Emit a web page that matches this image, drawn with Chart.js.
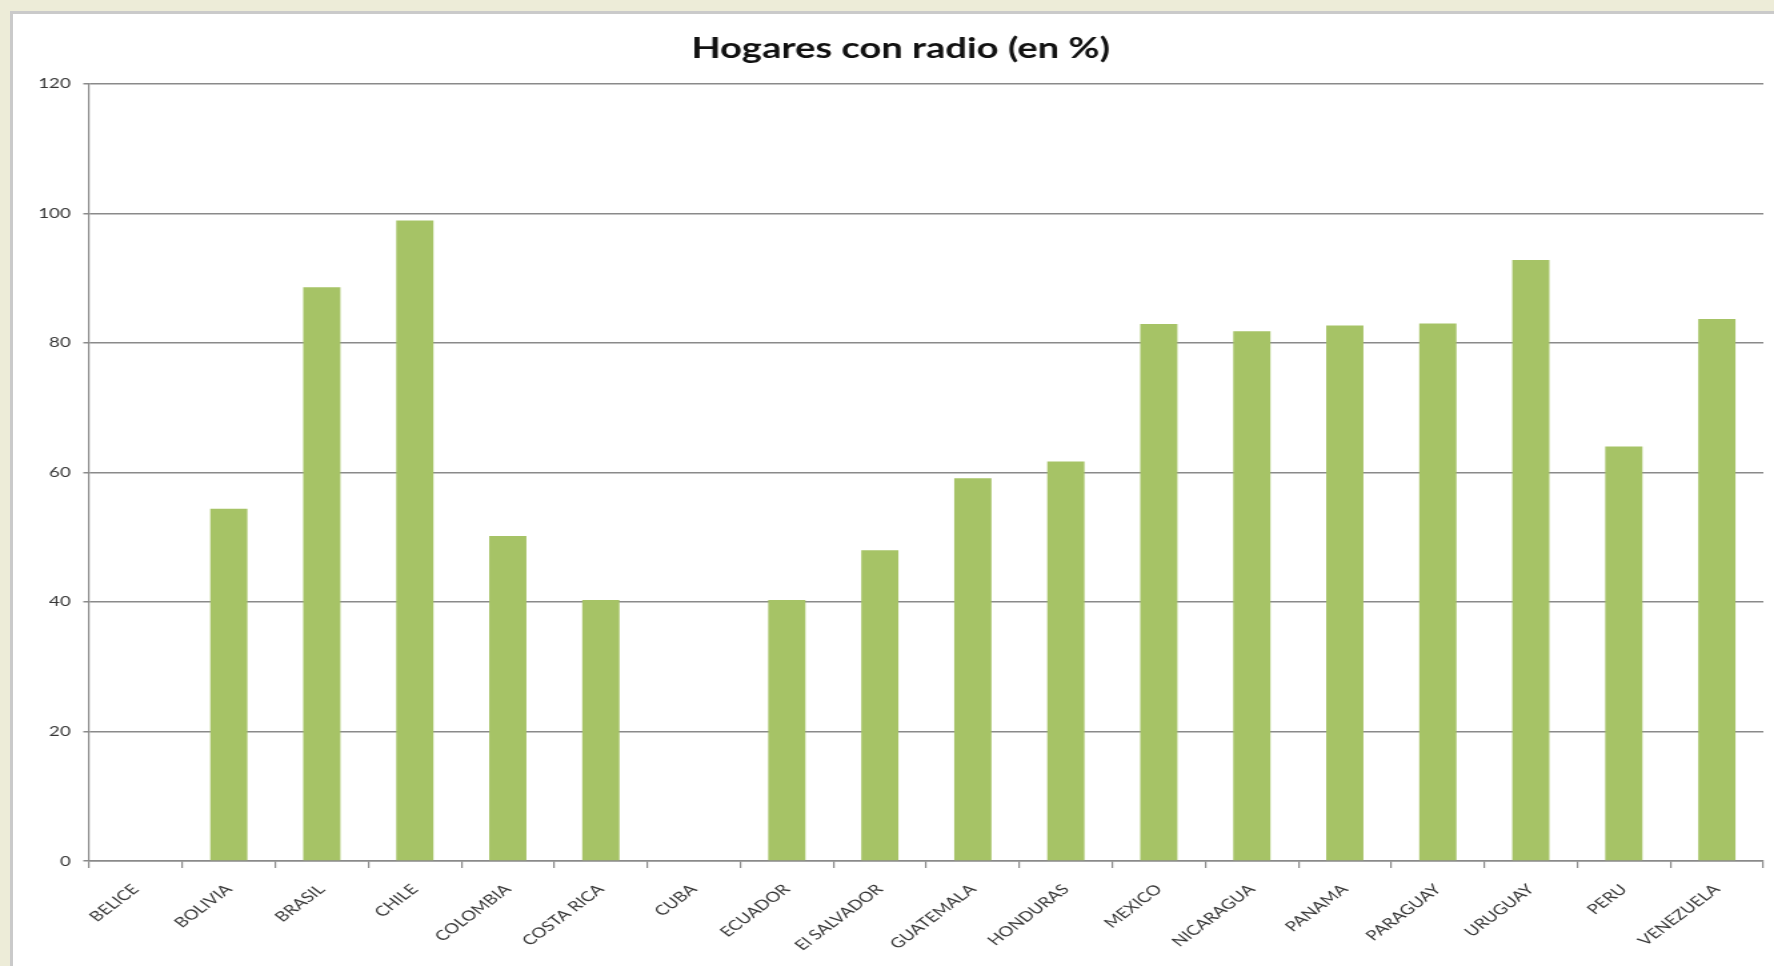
<!DOCTYPE html>
<html>
<head>
<meta charset="utf-8">
<script src="https://cdn.jsdelivr.net/npm/chart.js@4.4.1/dist/chart.umd.min.js"></script>
<style>
  html, body { margin: 0; padding: 0; background: #EDECD8; width: 1774px; height: 966px; overflow: hidden; }
  #panel { position: absolute; left: 10px; top: 11px; width: 1770px; height: 960px; background: #ffffff;
           border-left: 3px solid #CACACA; border-top: 3px solid #CACACA; }
  /* the source picture is a 4:3 slide stretched to 16:9, so the whole drawing is stretched the same way */
  #wrap { position: absolute; left: 0; top: 0; width: 1331px; height: 966px;
          transform: scaleX(1.33283); transform-origin: 0 0; }
</style>
</head>
<body>
<div id="panel"></div>
<div id="wrap"><canvas id="c" width="1331" height="966"></canvas></div>
<script>
const chartTitle = "Hogares con radio (en %)";
const categories = ["BELICE", "BOLIVIA", "BRASIL", "CHILE", "COLOMBIA", "COSTA RICA", "CUBA", "ECUADOR",
  "El SALVADOR", "GUATEMALA", "HONDURAS", "MEXICO", "NICARAGUA", "PANAMA", "PARAGUAY", "URUGUAY", "PERU", "VENEZUELA"];
const radioPct = [null, 54.4, 88.6, 98.9, 50.2, 40.3, null, 40.3, 48.0, 59.1, 61.7, 82.9, 81.8, 82.7, 83.0, 92.8, 64.0, 83.7];
const yTicks = [0, 20, 40, 60, 80, 100, 120];

Chart.defaults.font.family = "Lato, 'Open Sans', sans-serif";

new Chart(document.getElementById('c'), {
  type: 'bar',
  data: {
    labels: categories,
    datasets: [{
      label: chartTitle,
      data: radioPct,
      backgroundColor: '#A6C366',
      borderWidth: 0,
      categoryPercentage: 0.8,
      barPercentage: 0.5
    }]
  },
  options: {
    responsive: false,
    animation: false,
    layout: { padding: { left: 28.5, right: 8, top: 0, bottom: 0 } },
    plugins: {
      legend: { display: false },
      tooltip: { enabled: false },
      title: {
        display: true,
        text: chartTitle,
        color: '#111111',
        font: { size: 28.6, weight: 'bold', family: "Lato, 'Open Sans', sans-serif" },
        padding: { top: 31.5, bottom: 18 }
      }
    },
    scales: {
      x: {
        grid: { display: true, drawOnChartArea: false, drawTicks: true, tickLength: 7, color: '#8A8A8A', lineWidth: 1.2, offset: true },
        border: { display: true, color: '#8A8A8A', width: 1.5 },
        ticks: { color: '#363636', font: { size: 14 }, minRotation: 45, maxRotation: 45, autoSkip: false, padding: 13 },
        afterFit: (s) => { s.height = 105; }
      },
      y: {
        min: 0, max: 120,
        afterBuildTicks: (s) => { s.ticks = yTicks.map(v => ({ value: v })); },
        grid: { color: '#8A8A8A', lineWidth: 1.5, tickLength: 4.5, drawTicks: true },
        border: { display: true, color: '#8A8A8A', width: 1.2 },
        ticks: { color: '#363636', font: { size: 14 }, padding: 9.5 },
        afterFit: (s) => { s.width = 38.5; }
      }
    }
  }
});
</script>
</body>
</html>
